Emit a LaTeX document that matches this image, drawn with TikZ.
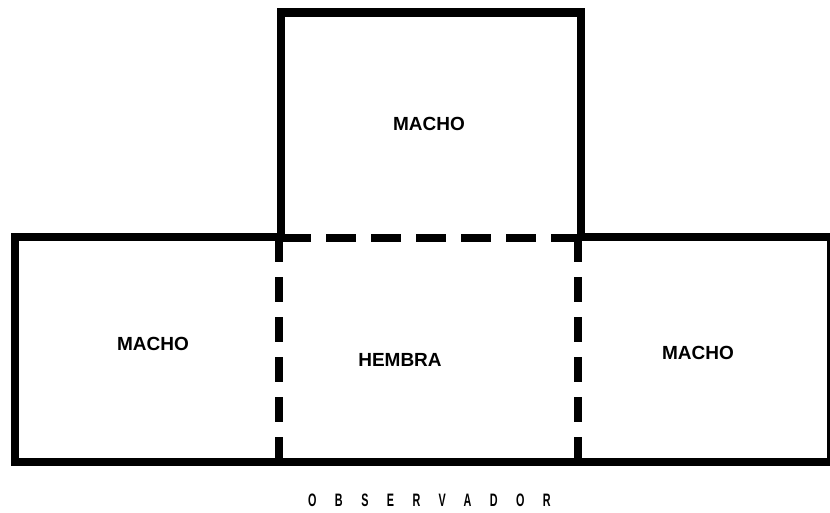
\documentclass[tikz,border=0pt]{standalone}
\usepackage{fontspec}
\setmainfont{Liberation Sans}
\usepackage{tikz}
\usetikzlibrary{positioning}

\tikzset{
	pared/.style={line width=8.5pt},
	divisoria/.style={line width=8.5pt, dash pattern=on 30pt off 15pt},
	divisoriav/.style={line width=8pt, dash pattern=on 25pt off 15pt},
	sexo/.style={inner sep=0pt, font=\fontsize{19}{19}\selectfont\bfseries},
	observador/.style={inner sep=0pt, anchor=west, xscale=0.6, font=\fontsize{18}{18}\selectfont\bfseries\addfontfeature{LetterSpace=171}}
}

\begin{document}
\begin{tikzpicture}[x=1pt,y=-1pt]
		\useasboundingbox (0,0) rectangle (830,512);
		% contorno de las jaulas
		\draw[pared] (15,462) -- (15,237) -- (281,237) -- (281,12.5) -- (581,12.5) -- (581,237) -- (831,237) -- (831,462) -- cycle;
		% separaciones de la hembra
		\draw[divisoria] (281,238) -- (581,238);
		\draw[divisoriav] (279,237) -- (279,462);
		\draw[divisoriav] (578,237) -- (578,462);
		\node[sexo] (machoarriba) at (429,123.5) {MACHO};
		\node[sexo] (machoizq) at (153,344) {MACHO};
		\node[sexo] (hembra) at (400,359.5) {HEMBRA};
		\node[sexo] (machoder) at (698,352.5) {MACHO};
		\node[observador] (obs) at (308,500) {OBSERVADOR};
	\end{tikzpicture}
\end{document}
